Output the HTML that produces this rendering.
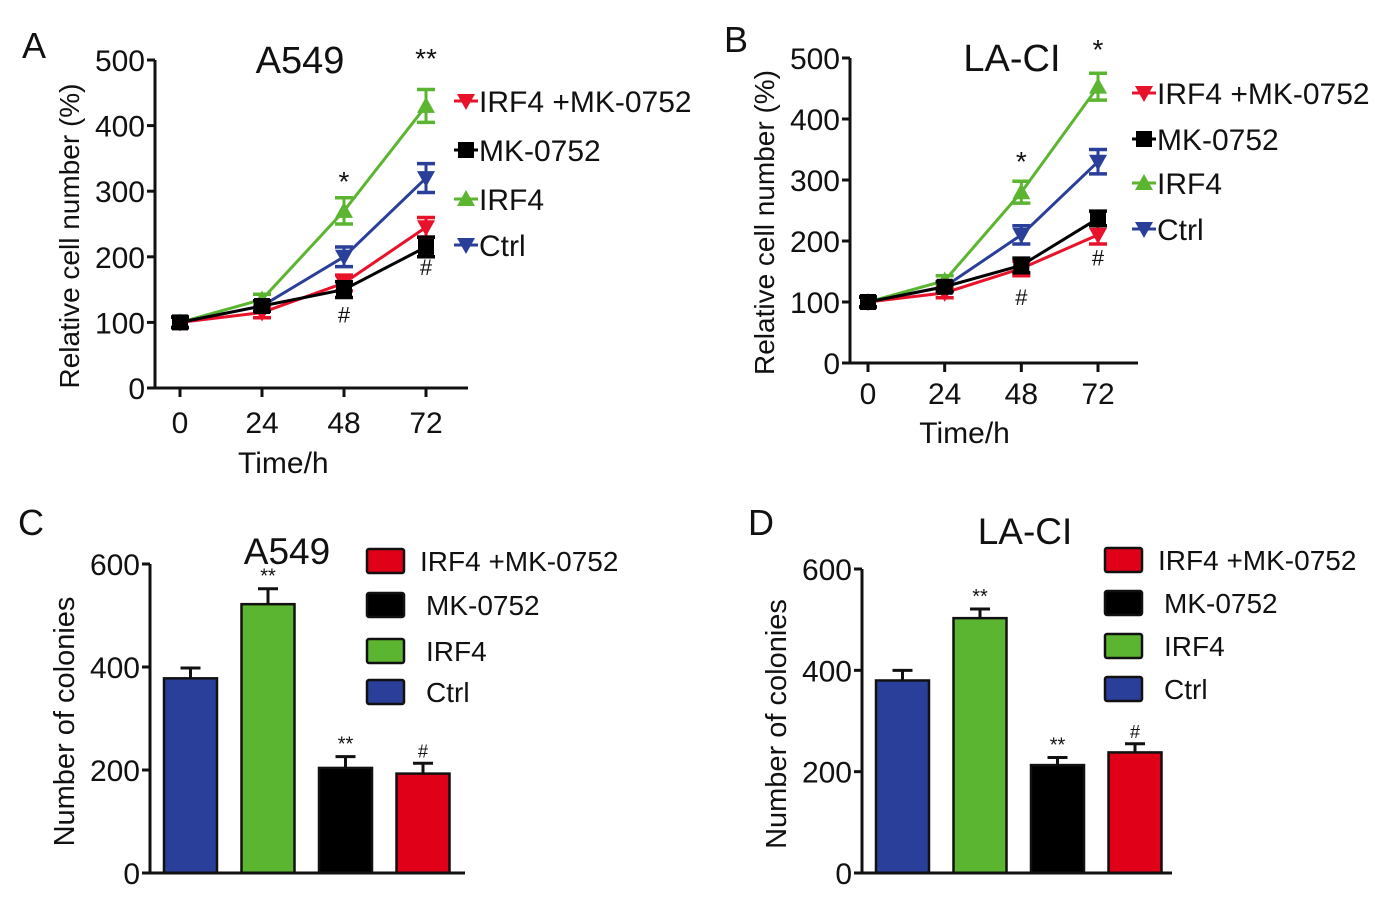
<!DOCTYPE html>
<html><head><meta charset="utf-8"><style>
body{margin:0;background:#fff}
svg{display:block;font-family:"Liberation Sans",Arial,sans-serif}
</style></head><body>
<svg id="fig" width="1376" height="904" viewBox="0 0 1376 904"></svg>
<script>
const times=[0,24,48,72];
const seriesNames=["IRF4 +MK-0752","MK-0752","IRF4","Ctrl"];
const colors=["#e8122a","#000000","#5cb531","#2a3f9a"];
const aRed=[100,115,160,245], aRedErr=[8,8,12,15];
const aBlack=[100,125,150,215], aBlackErr=[8,8,12,15];
const aGreen=[100,135,270,430], aGreenErr=[8,8,20,25];
const aBlue=[100,125,200,320], aBlueErr=[8,8,15,22];
const bRed=[100,115,155,210], bRedErr=[8,8,12,15];
const bBlack=[100,125,160,237], bBlackErr=[8,8,12,12];
const bGreen=[100,135,280,453], bGreenErr=[8,8,18,22];
const bBlue=[100,125,210,330], bBlueErr=[8,8,15,20];
const lineTicks=[0,100,200,300,400,500];
const barCats=["Ctrl","IRF4","MK-0752","IRF4 +MK-0752"];
const barColors=["#2a3f9a","#5cb531","#000000","#e00018"];
const cVals=[378,522,204,193], cErr=[20,30,22,20], cMarks=["","**","**","#"];
const dVals=[380,503,213,238], dErr=[20,18,15,17], dMarks=["","**","**","#"];
const barTicks=[0,200,400,600];

const NS="http://www.w3.org/2000/svg";
const svg=document.getElementById('fig');
function el(t,a,p){const e=document.createElementNS(NS,t);for(const k in a)e.setAttribute(k,a[k]);(p||svg).appendChild(e);return e;}
function txt(s,x,y,size,anchor,p,extra){const e=el('text',Object.assign({x:x,y:y,'font-size':size,'text-anchor':anchor||'middle',fill:'#111'},extra||{}),p);e.textContent=s;return e;}
function marker(g,shape,x,y,c){
  if(shape==='sq'){el('rect',{x:x-8,y:y-8,width:16,height:16,fill:c},g);}
  else if(shape==='up'){el('polygon',{points:`${x},${y-9} ${x-9},${y+7} ${x+9},${y+7}`,fill:c},g);}
  else {el('polygon',{points:`${x},${y+9} ${x-9},${y-7} ${x+9},${y-7}`,fill:c},g);}
}
function linePanel(o){
  const g=el('g',{});
  
  
  const X=t=>o.x0+(o.x72-o.x0)*t/72, Y=v=>o.y0-(o.y0-o.y500)*v/500;
  el('line',{x1:o.ax,y1:o.y500,x2:o.ax,y2:o.y0+1.5,stroke:'#111','stroke-width':3},g);
  el('line',{x1:o.ax,y1:o.y0,x2:o.axEnd,y2:o.y0,stroke:'#111','stroke-width':3},g);
  lineTicks.forEach(v=>{el('line',{x1:o.ax-8,y1:Y(v),x2:o.ax,y2:Y(v),stroke:'#111','stroke-width':3},g);txt(String(v),o.ax-10,Y(v)+11,30,'end',g);});
  times.forEach(t=>{el('line',{x1:X(t),y1:o.y0,x2:X(t),y2:o.y0+9,stroke:'#111','stroke-width':3},g);txt(String(t),X(t),o.y0+o.tickOff,30,'middle',g);});
  txt('Time/h',o.x0+(o.x72-o.x0)*0.42,o.y0+o.titleOff,30,'middle',g);
  txt('Relative cell number (%)',0,0,28,'middle',g,{transform:`translate(${o.ax-76},${(o.y0+o.y500)/2+12}) rotate(-90)`});
  txt(o.title,o.titleX,o.y500+13,38,'middle',g);
  const shapes=['dn','sq','up','dn'];
  const order=[2,3,0,1];
  order.forEach(i=>{
    const s=o.data[i], e=o.err[i];
    const sg=el('g',{},g);
    
    
    el('polyline',{points:s.map((v,k)=>X(times[k])+','+Y(v)).join(' '),fill:'none',stroke:colors[i],'stroke-width':3},sg);
    s.forEach((v,k)=>{
      const x=X(times[k]);
      el('line',{x1:x,y1:Y(v+e[k]),x2:x,y2:Y(v-e[k]),stroke:colors[i],'stroke-width':3},sg);
      el('line',{x1:x-9,y1:Y(v+e[k]),x2:x+9,y2:Y(v+e[k]),stroke:colors[i],'stroke-width':3.5},sg);
      el('line',{x1:x-9,y1:Y(v-e[k]),x2:x+9,y2:Y(v-e[k]),stroke:colors[i],'stroke-width':3.5},sg);
      marker(sg,shapes[i],x,Y(v),colors[i]);
    });
  });
  o.marks.forEach(m=>txt(m[0],X(m[1]),Y(m[2]),m[3],'middle',g));
  seriesNames.forEach((n,i)=>{
    const lg=el('g',{},g);
    
    
    const y=o.legY[i];
    el('line',{x1:o.legX,y1:y,x2:o.legX+24,y2:y,stroke:colors[i],'stroke-width':3},lg);
    marker(lg,shapes[i],o.legX+12,y,colors[i]);
    txt(n,o.legX+25,y+11,30,'start',lg);
  });
}
function barPanel(o){
  const g=el('g',{});
  
  
  const Y=v=>o.y0-(o.y0-o.y600)*v/600;
  const bw=53, step=o.step;
  o.vals.forEach((v,i)=>{
    const x=o.b0+i*step;
    const b=el('rect',{x:x,y:Y(v),width:bw,height:o.y0-Y(v),fill:barColors[i],stroke:'#111','stroke-width':2.5},g);
    
    
    const cx=x+bw/2, top=Y(v+o.err[i]);
    el('line',{x1:cx,y1:Y(v),x2:cx,y2:top,stroke:'#111','stroke-width':3},g);
    el('line',{x1:cx-10,y1:top,x2:cx+10,y2:top,stroke:'#111','stroke-width':3},g);
    if(o.marks[i])txt(o.marks[i],cx,top-6,o.marks[i]==='#'?18:20,'middle',g);
  });
  el('line',{x1:o.ax,y1:o.y600,x2:o.ax,y2:o.y0+1.5,stroke:'#111','stroke-width':3},g);
  el('line',{x1:o.ax,y1:o.y0,x2:o.axEnd,y2:o.y0,stroke:'#111','stroke-width':3},g);
  barTicks.forEach(v=>{el('line',{x1:o.ax-8,y1:Y(v),x2:o.ax,y2:Y(v),stroke:'#111','stroke-width':3},g);txt(String(v),o.ax-10,Y(v)+11,30,'end',g);});
  txt('Number of colonies',0,0,29,'middle',g,{transform:`translate(${o.ax-76},${(o.y0+o.y600)/2+3}) rotate(-90)`});
  txt(o.title,o.titleX,o.titleY,37,'middle',g);
  const legOrder=[3,2,1,0];
  legOrder.forEach((ci,r)=>{
    const lg=el('g',{},g);
    
    
    const y=o.legY[r];
    el('rect',{x:o.legX,y:y-12,width:37,height:24,rx:2,fill:barColors[ci],stroke:'#111','stroke-width':2.5},lg);
    txt(barCats[ci],o.legX+(r===0?53:59),y+10,28,'start',lg);
  });
}
linePanel({name:'panel-a-chart',ax:155,axEnd:468,y0:388,y500:60,x0:180,x72:426,title:'A549',titleX:300,tickOff:45,titleOff:85,
  data:[aRed,aBlack,aGreen,aBlue],err:[aRedErr,aBlackErr,aGreenErr,aBlueErr],
  marks:[['*',48,300,28],['**',72,488,28],['#',48,100,22],['#',72,172,22]],
  legX:454,legY:[101,150,199,245]});
linePanel({name:'panel-b-chart',ax:850,axEnd:1138,y0:363,y500:58,x0:868,x72:1098,title:'LA-CI',titleX:1012,tickOff:41,titleOff:80,
  data:[bRed,bBlack,bGreen,bBlue],err:[bRedErr,bBlackErr,bGreenErr,bBlueErr],
  marks:[['*',48,315,28],['*',72,498,28],['#',48,95,22],['#',72,160,22]],
  legX:1132,legY:[93,139,183,229]});
barPanel({name:'panel-c-chart',ax:150,axEnd:465,y0:873,y600:564,b0:164,step:77.5,vals:cVals,err:cErr,marks:cMarks,
  title:'A549',titleX:287,titleY:564,legX:367,legY:[561,605,651,692]});
barPanel({name:'panel-d-chart',ax:862,axEnd:1172,y0:873,y600:569,b0:876,step:77.5,vals:dVals,err:dErr,marks:dMarks,
  title:'LA-CI',titleX:1025,titleY:544,legX:1105,legY:[560,603,646,689]});
[['A',22,58],['B',724,52],['C',18,535],['D',748,535]].forEach(l=>{
  const t=txt(l[0],l[1],l[2],36,'start');
  
  
});
</script>
</body></html>
